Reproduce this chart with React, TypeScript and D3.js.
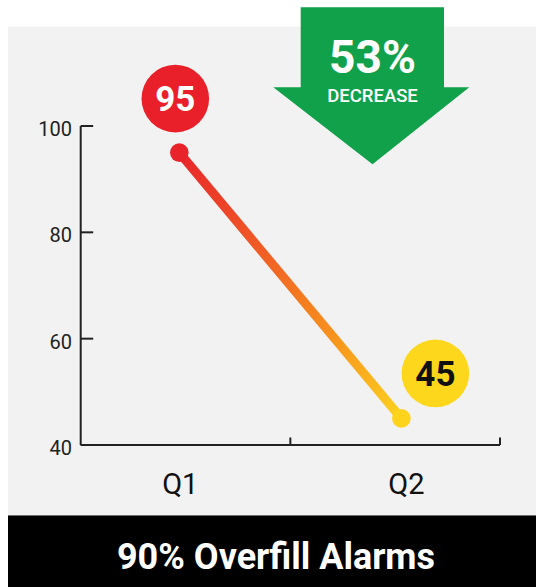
import React from "react";
import * as d3 from "d3";

const categories = ["Q1", "Q2"];
const values = [95, 45];
const yTicks = [40, 60, 80, 100];
const yDomain = [40, 100];
const changeLabel = "53%";
const changeText = "DECREASE";
const title = "90% Overfill Alarms";

const W = 536;
const H = 587;
const FONT = "Roboto, 'Noto Sans', sans-serif";

export default function App() {
  const axisX = 80.7;
  const axisEnd = 500;
  const y = d3.scaleLinear().domain(yDomain).range([445, 126]);
  const x = d3.scalePoint<string>().domain(categories).range([axisX, axisEnd]).padding(0.444);
  const x0 = y(yDomain[0]);
  const pts = categories.map((c, i) => ({ c, v: values[i], px: x(c) as number, py: y(values[i]) }));
  const line = d3.line<{ px: number; py: number }>().x((d) => d.px).y((d) => d.py);
  const boundaryTicks = [(axisX + axisEnd) / 2, axisEnd];

  // arrow geometry
  const ax = 372.5;
  const arrowPath = d3.path();
  arrowPath.moveTo(300.7, 7.3);
  arrowPath.lineTo(444, 7.3);
  arrowPath.lineTo(444, 87.3);
  arrowPath.lineTo(469.3, 87.3);
  arrowPath.lineTo(ax, 164.3);
  arrowPath.lineTo(273.3, 87.3);
  arrowPath.lineTo(300.7, 87.3);
  arrowPath.closePath();

  const labelStyles = [
    { dx: -4, dy: -54, fill: "#e9202a", text: "#ffffff" },
    { dx: 34, dy: -45, fill: "#fdd71b", text: "#111111" },
  ];
  const catLabelShift = [1, 5];

  return (
    <div style={{ position: "absolute", left: 0, top: 0, width: W, height: H, background: "#ffffff" }}>
      <svg width={W} height={H} style={{ display: "block" }} fontFamily={FONT}>
        <defs>
          <linearGradient
            id="lineGrad"
            gradientUnits="userSpaceOnUse"
            x1={pts[0].px}
            y1={pts[0].py}
            x2={pts[1].px}
            y2={pts[1].py}
          >
            <stop offset="0" stopColor="#e8252a" />
            <stop offset="0.35" stopColor="#ef5a26" />
            <stop offset="0.7" stopColor="#f7941d" />
            <stop offset="1" stopColor="#fdd21f" />
          </linearGradient>
        </defs>
        <rect x={8} y={26.7} width={W - 8} height={515.5 - 26.7} fill="#f2f2f2" />
        <rect x={8} y={515.5} width={W - 8} height={H - 515.5} fill="#000000" />
        <line x1={8} x2={W} y1={515.5} y2={515.5} stroke="#6b6b6b" strokeWidth={1.2} />

        {/* y axis */}
        <line x1={axisX} x2={axisX} y1={y(yDomain[1])} y2={x0} stroke="#222" strokeWidth={2} />
        {yTicks.map((t) => (
          <g key={t} transform={`translate(0,${y(t)})`}>
            <line x1={axisX} x2={axisX + 12.5} stroke="#222" strokeWidth={2} />
            <text x={axisX - 8.7} y={10} textAnchor="end" fontSize={20} fill="#222">
              {t}
            </text>
          </g>
        ))}

        {/* x axis */}
        <line x1={axisX} x2={axisEnd} y1={x0} y2={x0} stroke="#222" strokeWidth={2} />
        {boundaryTicks.map((bx, i) => (
          <line key={i} x1={bx} x2={bx} y1={x0} y2={x0 - 7.5} stroke="#222" strokeWidth={2} />
        ))}
        {categories.map((c, i) => (
          <text key={c} x={(x(c) as number) + catLabelShift[i]} y={494} textAnchor="middle" fontSize={29} fill="#111">
            {c}
          </text>
        ))}

        {/* line */}
        <path d={line(pts) || ""} stroke="url(#lineGrad)" strokeWidth={9} fill="none" />
        <circle cx={pts[0].px} cy={pts[0].py} r={9.3} fill="#e8232a" />
        <circle cx={pts[1].px} cy={pts[1].py} r={9.3} fill="#fdd31c" />

        {/* value badges */}
        {pts.map((p, i) => {
          const s = labelStyles[i];
          const cx = p.px + s.dx;
          const cy = p.py + s.dy;
          return (
            <g key={p.c}>
              <circle cx={cx} cy={cy} r={33.8} fill={s.fill} />
              <text x={cx} y={cy + 12.5} textAnchor="middle" fontSize={35} fontWeight={700} fill={s.text}>
                {p.v}
              </text>
            </g>
          );
        })}

        {/* arrow */}
        <path d={arrowPath.toString()} fill="#10a14a" />
        <text x={ax} y={72.7} textAnchor="middle" fontSize={46} fontWeight={700} fill="#ffffff">
          {changeLabel}
        </text>
        <text x={ax} y={101.7} textAnchor="middle" fontSize={18.5} fontWeight={500} fill="#ffffff">
          {changeText}
        </text>

        {/* title */}
        <text x={276} y={569} textAnchor="middle" fontSize={36} fontWeight={700} fill="#ffffff">
          {title}
        </text>
      </svg>
    </div>
  );
}
